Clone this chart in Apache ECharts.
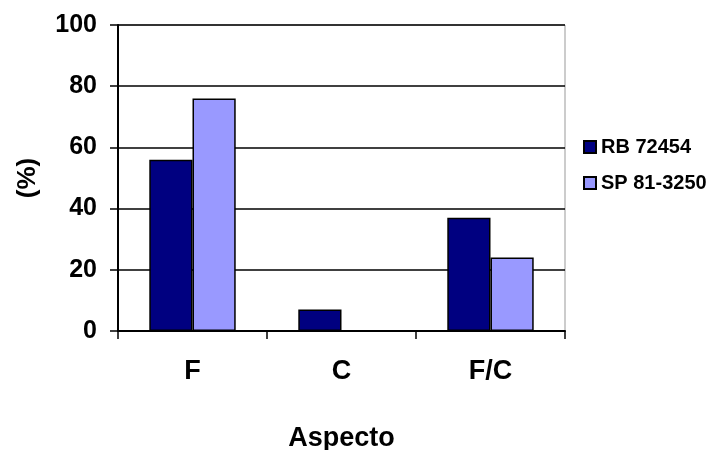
<!DOCTYPE html>
<html>
<head>
<meta charset="utf-8">
<script src="https://cdn.jsdelivr.net/npm/echarts@6/dist/echarts.min.js"></script>
<style>
  html, body { margin: 0; padding: 0; background: #fff; }
  #chart { width: 719px; height: 450px; }
</style>
</head>
<body>
<div id="chart"></div>
<script>
// Data
const categories = ['F', 'C', 'F/C'];
const seriesNames = ['RB 72454', 'SP 81-3250'];
const rbValues = [56, 7, 37];
const spValues = [76, 0, 24];

const chart = echarts.init(document.getElementById('chart'));

const font = 'Liberation Sans, Arial, sans-serif';

const option = {
    animation: false,
    grid: {
        left: 118,
        right: 154,
        top: 25,
        bottom: 119,
        outerBoundsMode: 'none',
        show: true,
        borderColor: '#999',
        borderWidth: 1
    },
    legend: {
        orient: 'vertical',
        left: 583,
        top: 137,
        padding: 0,
        itemWidth: 12,
        itemHeight: 12,
        itemGap: 16,
        icon: 'rect',
        textStyle: { fontFamily: font, fontWeight: 'bold', fontSize: 20, color: '#000' },
        data: seriesNames
    },
    xAxis: {
        type: 'category',
        data: categories,
        name: 'Aspecto',
        nameLocation: 'middle',
        nameGap: 94,
        nameTextStyle: { fontFamily: font, fontWeight: 'bold', fontSize: 27, color: '#000' },
        axisLine: { lineStyle: { color: '#000', width: 2 } },
        axisTick: { show: true, length: 8, lineStyle: { color: '#000', width: 1.5 } },
        axisLabel: { fontFamily: font, fontWeight: 'bold', fontSize: 27, color: '#000', margin: 27 }
    },
    yAxis: {
        type: 'value',
        min: 0,
        max: 100,
        interval: 20,
        name: '(%)',
        nameLocation: 'middle',
        nameGap: 77,
        nameRotate: 90,
        nameTextStyle: { fontFamily: font, fontWeight: 'bold', fontSize: 26, color: '#000' },
        axisLine: { show: true, lineStyle: { color: '#000', width: 2 } },
        axisTick: { show: true, length: 8, lineStyle: { color: '#000', width: 1.5 } },
        axisLabel: { fontFamily: font, fontWeight: 'bold', fontSize: 25, color: '#000', margin: 21 },
        splitLine: { lineStyle: { color: '#000', width: 1.5 } }
    },
    series: [
        {
            name: seriesNames[0],
            type: 'bar',
            data: rbValues,
            barGap: '0%',
            barCategoryGap: '42%',
            itemStyle: { color: '#000080', borderColor: '#000', borderWidth: 1.5 }
        },
        {
            name: seriesNames[1],
            type: 'bar',
            data: spValues,
            itemStyle: { color: '#9999ff', borderColor: '#000', borderWidth: 1.5 }
        }
    ]
};

chart.setOption(option);
</script>
</body>
</html>
